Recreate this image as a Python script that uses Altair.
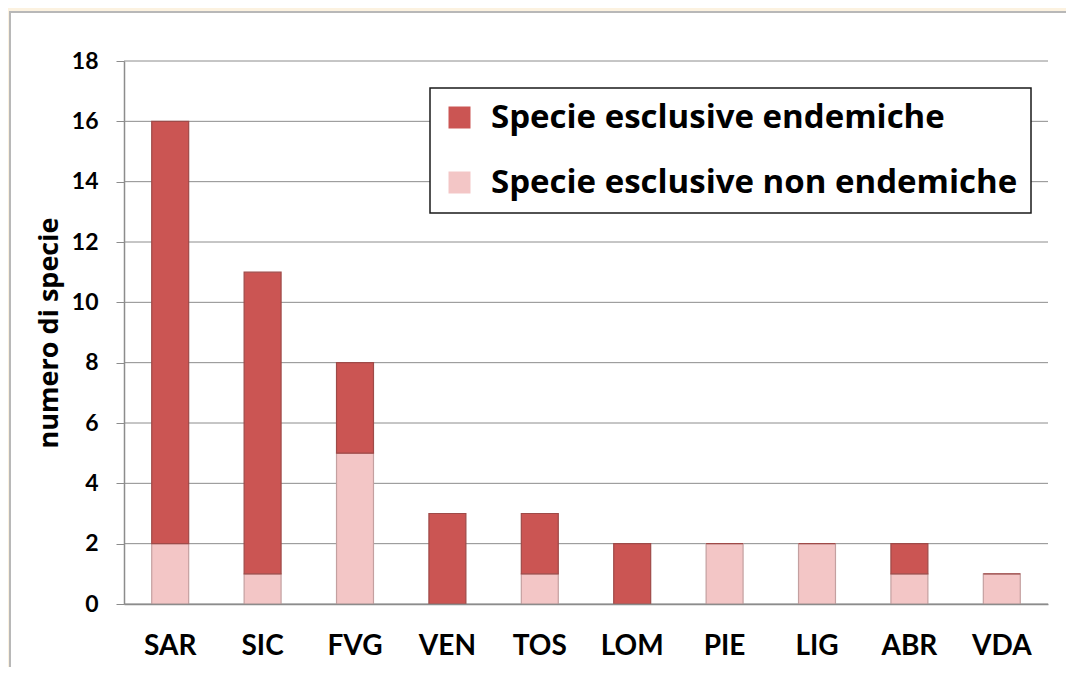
import altair as alt
import pandas as pd

regions = ["SAR", "SIC", "FVG", "VEN", "TOS", "LOM", "PIE", "LIG", "ABR", "VDA"]
endemiche = [14, 10, 3, 3, 2, 2, 0, 0, 1, 0]
non_endemiche = [2, 1, 5, 0, 1, 0, 2, 2, 1, 1]
series_names = ["Specie esclusive endemiche", "Specie esclusive non endemiche"]
series_colors = ["#cb5553", "#f3c6c6"]
y_ticks = list(range(0, 19, 2))

rows = []
for r, e, n in zip(regions, endemiche, non_endemiche):
    rows.append({"regione": r, "serie": series_names[1], "valore": n, "ordine": 0})
    rows.append({"regione": r, "serie": series_names[0], "valore": e, "ordine": 1})
df = pd.DataFrame(rows)

W, H = 924, 543
FONT = "Lato"
FONT2 = "Open Sans"

panel = alt.Chart(pd.DataFrame({"a": [0]})).mark_rect(
    fill="white", stroke="#b8b8b8", strokeWidth=2
).encode(
    x=alt.value(-114), x2=alt.value(W + 60), y=alt.value(-49), y2=alt.value(H + 120)
)

grid = alt.Chart(pd.DataFrame({"t": y_ticks})).mark_rule(
    color="#8c8c8c", strokeWidth=1
).encode(
    y=alt.Y("t:Q", scale=alt.Scale(domain=[0, 18])),
    x=alt.value(0), x2=alt.value(W),
)

bars = alt.Chart(df).mark_bar(strokeWidth=1.2).encode(
    x=alt.X(
        "regione:N", sort=regions, title=None,
        scale=alt.Scale(paddingInner=0.6, paddingOuter=0.3),
        axis=alt.Axis(
            labelAngle=0, labelFont=FONT, labelFontSize=28, labelFontWeight="bold",
            labelColor="black", labelPadding=28, ticks=False,
            domainColor="#8c8c8c", domainWidth=1.5, zindex=1,
        ),
    ),
    y=alt.Y(
        "valore:Q", stack="zero", title="numero di specie",
        scale=alt.Scale(domain=[0, 18], nice=False),
        axis=alt.Axis(
            values=y_ticks, grid=False, tickSize=8, tickColor="#8c8c8c",
            domainColor="#8c8c8c", domainWidth=1.5,
            labelFont=FONT, labelFontSize=23, labelFontWeight="bold",
            labelColor="black", labelPadding=18,
            titleFont=FONT2, titleFontSize=27, titleFontWeight="bold",
            titleColor="black", titlePadding=8, zindex=1,
        ),
    ),
    color=alt.Color(
        "serie:N",
        scale=alt.Scale(domain=series_names, range=series_colors),
        legend=alt.Legend(
            title=None, orient="none", legendX=306, legendY=27,
            fillColor="white", strokeColor="#1a1a1a",
            padding=13, symbolType="square", symbolSize=484,
            symbolStrokeWidth=0, labelFont=FONT2, labelFontSize=33,
            labelFontWeight="bold", labelColor="black", labelOffset=15,
            rowPadding=31, labelLimit=800,
        ),
    ),
    stroke=alt.Stroke(
        "serie:N",
        scale=alt.Scale(domain=series_names, range=["#9e4a48", "#c4a0a0"]),
        legend=None,
    ),
    order=alt.Order("ordine:Q"),
)

chart = alt.layer(panel, grid, bars).properties(
    width=W, height=H,
    background="#fcf2e0",
    padding={"left": 116, "top": 53, "right": 18, "bottom": 63},
    autosize=alt.AutoSizeParams(type="none"),
).configure_view(stroke=None).configure_legend(strokeWidth=1.5)

chart.save("out.html", embed_options={"renderer": "svg", "actions": False})
